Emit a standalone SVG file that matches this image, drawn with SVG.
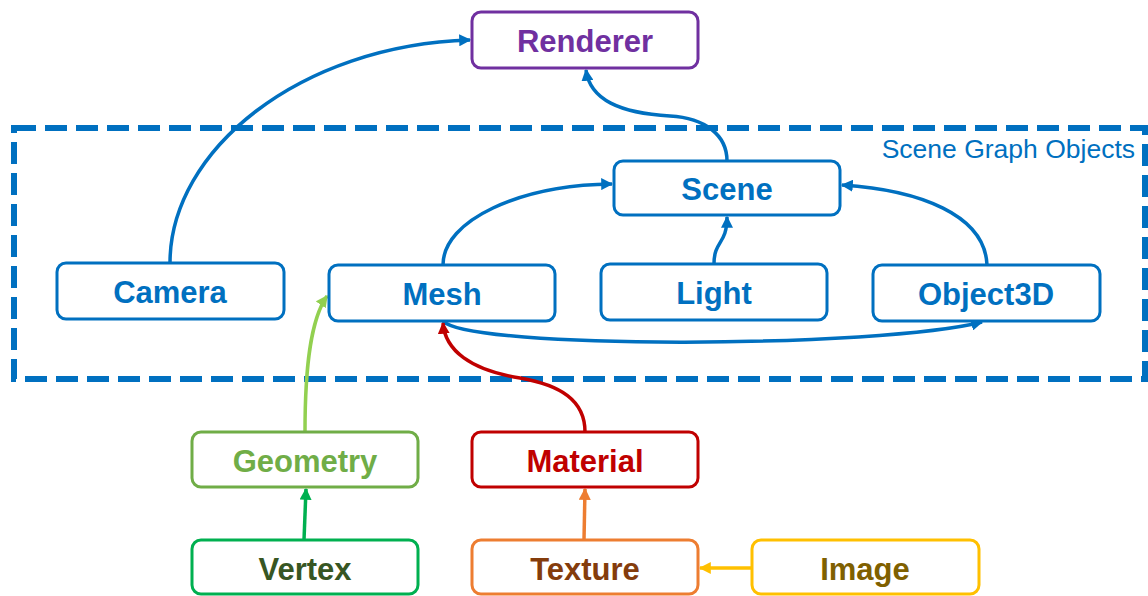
<svg xmlns="http://www.w3.org/2000/svg" width="1148" height="596" viewBox="0 0 1148 596">
<style>
.box{fill:#fff;stroke-width:3}
.lbl{font-family:"Liberation Sans",Arial,sans-serif;font-weight:bold;font-size:31px;text-anchor:middle;dominant-baseline:central}
.con{fill:none;stroke-width:3.5}
</style>
<defs>
<marker id="aBlue" viewBox="0 0 10 10" refX="9" refY="5" markerWidth="12" markerHeight="12" markerUnits="userSpaceOnUse" orient="auto"><path d="M0,0 L10,5 L0,10 z" fill="#0070C0"/></marker>
<marker id="aLGreen" viewBox="0 0 10 10" refX="9" refY="5" markerWidth="12" markerHeight="12" markerUnits="userSpaceOnUse" orient="auto"><path d="M0,0 L10,5 L0,10 z" fill="#92D050"/></marker>
<marker id="aRed" viewBox="0 0 10 10" refX="9" refY="5" markerWidth="12" markerHeight="12" markerUnits="userSpaceOnUse" orient="auto"><path d="M0,0 L10,5 L0,10 z" fill="#C00000"/></marker>
<marker id="aGreen" viewBox="0 0 10 10" refX="9" refY="5" markerWidth="12" markerHeight="12" markerUnits="userSpaceOnUse" orient="auto"><path d="M0,0 L10,5 L0,10 z" fill="#00B050"/></marker>
<marker id="aOrange" viewBox="0 0 10 10" refX="9" refY="5" markerWidth="12" markerHeight="12" markerUnits="userSpaceOnUse" orient="auto"><path d="M0,0 L10,5 L0,10 z" fill="#ED7D31"/></marker>
<marker id="aYellow" viewBox="0 0 10 10" refX="9" refY="5" markerWidth="12" markerHeight="12" markerUnits="userSpaceOnUse" orient="auto"><path d="M0,0 L10,5 L0,10 z" fill="#FFC000"/></marker>
</defs>
<rect width="1148" height="596" fill="#fff"/>
<g id="scene-graph-objects">
<rect x="14" y="128" width="1131" height="251" fill="none" stroke="#0070C0" stroke-width="6" stroke-dasharray="22 9"/>
<text x="1135" y="158" font-family="Liberation Sans,Arial,sans-serif" font-size="26.5" fill="#0070C0" text-anchor="end">Scene Graph Objects</text>
</g>
<g id="connectors">
<path class="con" stroke="#0070C0" d="M170,263 C170,150 300,45 470,40" marker-end="url(#aBlue)"/>
<path class="con" stroke="#0070C0" d="M727,161 C727,135 705,118 670,116 C620,113 590,100 586,70" marker-end="url(#aBlue)"/>
<path class="con" stroke="#0070C0" d="M443,265 C443,220 520,185 612,184" marker-end="url(#aBlue)"/>
<path class="con" stroke="#0070C0" d="M714,264 C714,240 727,245 727,217" marker-end="url(#aBlue)"/>
<path class="con" stroke="#0070C0" d="M987,265 C985,215 920,190 842,185" marker-end="url(#aBlue)"/>
<path class="con" stroke="#0070C0" d="M443,321 C470,350 880,348 982,322" marker-end="url(#aBlue)"/>
<path class="con" stroke="#92D050" d="M305,432 C305,370 310,320 327,296" marker-end="url(#aLGreen)"/>
<path class="con" stroke="#C00000" d="M585,432 C585,400 560,385 520,378 C470,370 445,350 443,323" marker-end="url(#aRed)"/>
<path class="con" stroke="#00B050" d="M304,540 L306,489" marker-end="url(#aGreen)"/>
<path class="con" stroke="#ED7D31" d="M584,540 L585,489" marker-end="url(#aOrange)"/>
<path class="con" stroke="#FFC000" d="M752,568 L700,568" marker-end="url(#aYellow)"/>
</g>
<g id="renderer"><rect class="box" x="472" y="12" width="226" height="56" rx="9" stroke="#7030A0"/><text class="lbl" x="585" y="41" fill="#7030A0">Renderer</text></g>
<g id="scene"><rect class="box" x="614" y="161" width="226" height="54" rx="9" stroke="#0070C0"/><text class="lbl" x="727" y="189" fill="#0070C0">Scene</text></g>
<g id="camera"><rect class="box" x="57" y="263" width="227" height="56" rx="9" stroke="#0070C0"/><text class="lbl" x="170" y="292" fill="#0070C0">Camera</text></g>
<g id="mesh"><rect class="box" x="329" y="265" width="226" height="56" rx="9" stroke="#0070C0"/><text class="lbl" x="442" y="294" fill="#0070C0">Mesh</text></g>
<g id="light"><rect class="box" x="601" y="264" width="226" height="56" rx="9" stroke="#0070C0"/><text class="lbl" x="714" y="293" fill="#0070C0">Light</text></g>
<g id="object3d"><rect class="box" x="873" y="265" width="227" height="56" rx="9" stroke="#0070C0"/><text class="lbl" x="986" y="294" fill="#0070C0">Object3D</text></g>
<g id="geometry"><rect class="box" x="192" y="432" width="226" height="55" rx="9" stroke="#70AD47"/><text class="lbl" x="305" y="461" fill="#70AD47">Geometry</text></g>
<g id="material"><rect class="box" x="472" y="432" width="226" height="55" rx="9" stroke="#C00000"/><text class="lbl" x="585" y="461" fill="#C00000">Material</text></g>
<g id="vertex"><rect class="box" x="192" y="540" width="226" height="54" rx="9" stroke="#00B050"/><text class="lbl" x="305" y="569" fill="#375623">Vertex</text></g>
<g id="texture"><rect class="box" x="472" y="540" width="226" height="54" rx="9" stroke="#ED7D31"/><text class="lbl" x="585" y="569" fill="#843C0C">Texture</text></g>
<g id="image"><rect class="box" x="752" y="540" width="227" height="54" rx="9" stroke="#FFC000"/><text class="lbl" x="865" y="569" fill="#7F6000">Image</text></g>
</svg>
